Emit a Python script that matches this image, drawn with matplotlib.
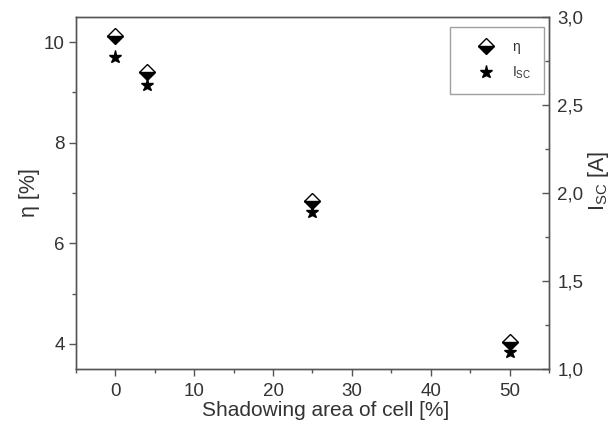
import matplotlib
matplotlib.use("Agg")
import matplotlib.pyplot as plt
from matplotlib.ticker import MultipleLocator, FuncFormatter

plt.rcParams["font.family"] = ["Liberation Sans", "DejaVu Sans"]
plt.rcParams["mathtext.fontset"] = "custom"
plt.rcParams["mathtext.rm"] = "Liberation Sans"

# Dados
sombra = [0, 4, 25, 50]
eficiencia = [10.12, 9.40, 6.85, 4.03]
corrente = [2.774, 2.612, 1.893, 1.097]

cor_texto = "#333333"
cor_eixo = "#555555"

fig = plt.figure(figsize=(6.16, 4.26), dpi=100)
ax = fig.add_axes([0.1234, 0.1338, 0.7678, 0.8263])
ax2 = ax.twinx()

l1, = ax.plot(sombra, eficiencia, linestyle="none", marker="D", markersize=8,
              fillstyle="bottom", color="black", markerfacecoloralt="white",
              markeredgewidth=1.0, label="η")
l2, = ax2.plot(sombra, corrente, linestyle="none", marker="*", markersize=9.5,
               color="black", label=r"I$_{\mathrm{SC}}$")

ax.set_xlim(-5, 55)
ax.set_ylim(3.5, 10.5)
ax2.set_ylim(1.0, 3.0)

ax.xaxis.set_major_locator(MultipleLocator(10))
ax.xaxis.set_minor_locator(MultipleLocator(5))
ax.yaxis.set_major_locator(MultipleLocator(2))
ax.yaxis.set_minor_locator(MultipleLocator(1))
ax2.yaxis.set_major_locator(MultipleLocator(0.5))
ax2.yaxis.set_minor_locator(MultipleLocator(0.25))
ax2.yaxis.set_major_formatter(FuncFormatter(lambda v, p: f"{v:.1f}".replace(".", ",")))

ax.tick_params(axis="both", which="major", direction="out", length=5, width=1,
               labelsize=13.5, colors=cor_eixo, labelcolor=cor_texto, pad=3)
ax.tick_params(axis="x", which="major", pad=5)
ax.tick_params(axis="both", which="minor", direction="out", length=3, width=1, colors=cor_eixo)
ax2.tick_params(axis="y", which="major", direction="in", length=5, width=1,
                labelsize=13.5, colors=cor_eixo, labelcolor=cor_texto, pad=6)
ax2.tick_params(axis="y", which="minor", direction="in", length=3, width=1, colors=cor_eixo)

for a in (ax, ax2):
    for s in a.spines.values():
        s.set_color(cor_eixo)
        s.set_linewidth(1.0)

ax.set_xlabel("Shadowing area of cell [%]", fontsize=15, color=cor_texto)
ax.xaxis.set_label_coords(0.5285, -0.092)
ax.set_ylabel("η [%]", fontsize=15.5, color=cor_texto)
ax.yaxis.set_label_coords(-0.076, 0.5)
ax2.set_ylabel(r"I$_{\mathrm{SC}}$ [A]", fontsize=15.5, color=cor_texto)
ax2.yaxis.set_label_coords(1.078, 0.534)

leg = ax.legend(handles=[l1, l2], loc="upper right", fontsize=10, frameon=True,
                fancybox=False, edgecolor="#888888", handlelength=3.4,
                handletextpad=0.15, labelspacing=0.8, borderpad=0.9,
                borderaxespad=0, bbox_to_anchor=(0.989, 0.971))
leg.get_frame().set_linewidth(1.0)
for t in leg.get_texts():
    t.set_color(cor_texto)

plt.savefig("out.png", dpi=100)
